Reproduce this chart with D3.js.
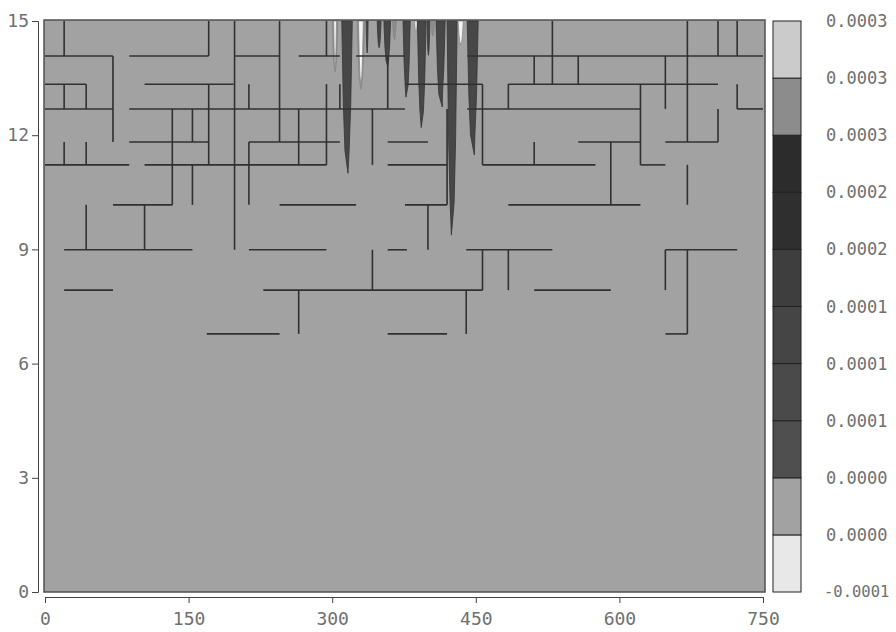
<!DOCTYPE html>
<html>
<head>
<meta charset="utf-8">
<script src="https://cdn.jsdelivr.net/npm/d3@7"></script>
<style>
  body { margin: 0; background: #fff; }
  text { font-family: "DejaVu Sans Mono", monospace; fill: #707070; }
</style>
</head>
<body>
<div id="chart"></div>
<script>
const xTicks = [0, 150, 300, 450, 600, 750];
const yTicks = [0, 3, 6, 9, 12, 15];

// colour bar, bottom to top
const legendLabels = ["-0.0001", "0.0000", "0.0000", "0.0001", "0.0001", "0.0001",
                      "0.0002", "0.0002", "0.0003", "0.0003", "0.0003"];
const legendColors = ["#e8e8e8", "#a2a2a2", "#4f4f4f", "#4a4a4a", "#454545",
                      "#3e3e3e", "#2f2f2f", "#2c2c2c", "#8c8c8c", "#cbcbcb"];

// horizontal contour pieces: [y, x1, x2]
const hSegs = [
  [14.08, 0, 71], [14.08, 88, 171], [14.08, 198, 245], [14.08, 265, 308], [14.08, 325, 376], [14.08, 441, 750],
  [13.34, 0, 43], [13.34, 104, 197], [13.34, 376, 457], [13.34, 484, 703],
  [12.69, 0, 71], [12.69, 88, 376], [12.69, 441, 622], [12.69, 723, 750],
  [11.82, 88, 171], [11.82, 213, 308], [11.82, 358, 400], [11.82, 557, 622], [11.82, 648, 703],
  [11.22, 0, 88], [11.22, 104, 294], [11.22, 358, 420], [11.22, 457, 575], [11.22, 622, 648],
  [10.17, 71, 133], [10.17, 245, 325], [10.17, 376, 420], [10.17, 484, 622],
  [8.99, 20, 154], [8.99, 213, 294], [8.99, 358, 378], [8.99, 440, 530], [8.99, 648, 723],
  [7.93, 20, 71], [7.93, 228, 457], [7.93, 511, 591],
  [6.78, 169, 245], [6.78, 358, 420], [6.78, 648, 671]
];

// vertical contour pieces: [x, yTop, yBottom]
const vSegs = [
  [20, 15, 14.08], [171, 15, 14.08], [198, 15, 8.99], [245, 15, 11.82], [294, 15, 14.08],
  [530, 15, 13.34], [671, 15, 11.82], [703, 15, 14.08], [723, 15, 14.08],
  [71, 14.08, 11.82], [358, 14.08, 12.69], [511, 14.08, 13.34], [557, 14.08, 13.34], [648, 14.08, 12.69],
  [20, 13.34, 12.69], [43, 13.34, 12.69], [171, 13.34, 11.22], [213, 13.34, 12.69], [294, 13.34, 11.22],
  [308, 13.34, 12.69], [457, 13.34, 11.22], [484, 13.34, 12.69], [622, 13.34, 11.22], [723, 13.34, 12.69],
  [133, 12.69, 10.17], [154, 12.69, 11.82], [265, 12.69, 11.22], [342, 12.69, 11.22], [420, 12.69, 10.17], [703, 12.69, 11.82],
  [20, 11.82, 11.22], [43, 11.82, 11.22], [213, 11.82, 10.17], [591, 11.82, 10.17], [511, 11.82, 11.22],
  [154, 11.22, 10.17], [671, 11.22, 10.17],
  [43, 10.17, 8.99], [104, 10.17, 8.99], [400, 10.17, 8.99],
  [342, 8.99, 7.93], [457, 8.99, 7.93], [484, 8.99, 7.93], [648, 8.99, 7.93], [671, 8.99, 6.78],
  [265, 7.93, 6.78], [440, 7.93, 6.78]
];

// narrow filled contours hanging from the top edge: [xLeft, xRight, xTip, yTip, fill]
const spikes = [
  [300, 306, 303, 13.66, "#8c8c8c"],
  [301.5, 304.5, 303, 13.75, "#f2f2f2"],
  [310, 321, 316.5, 11.0, "#474747"],
  [326, 334, 330, 13.2, "#8c8c8c"],
  [327.5, 332.5, 330, 13.3, "#f5f5f5"],
  [335.5, 337.5, 336.5, 14.16, "#474747"],
  [347, 351, 349, 14.3, "#474747"],
  [354, 361, 358, 13.8, "#474747"],
  [363, 367, 365, 14.5, "#8c8c8c"],
  [374, 381.5, 377, 13.0, "#474747"],
  [386, 389, 387.5, 14.7, "#f2f2f2"],
  [389, 398, 393, 12.2, "#474747"],
  [399, 402, 400.5, 14.1, "#474747"],
  [403, 407, 405, 14.6, "#8c8c8c"],
  [408.5, 418, 415, 12.74, "#474747"],
  [420, 430.5, 424.5, 9.38, "#474747"],
  [431.5, 437, 434, 14.37, "#f2f2f2"],
  [441, 452.5, 448.5, 11.48, "#474747"]
];

const width = 896, height = 632;
const svg = d3.select("#chart").append("svg")
    .attr("width", width)
    .attr("height", height);

const x = d3.scaleLinear().domain([0, 750]).range([45, 763]);
const y = d3.scaleLinear().domain([0, 15]).range([592, 21]);

// plot background
const plot = svg.append("g");
plot.append("rect")
    .attr("x", 44).attr("y", 20)
    .attr("width", 721).attr("height", 572)
    .attr("fill", "#a2a2a2");

// spikes: nearly parallel sides, tapering near the tip
const spikePath = s => {
  const xl = x(s[0]), xr = x(s[1]), xt = x(s[2]), top = y(15), yt = y(s[3]);
  const h = yt - top, w = xr - xl;
  return d3.line()([
    [xl, top], [xr, top],
    [xr - w * 0.15, top + 0.55 * h], [xr - w * 0.3, top + 0.85 * h],
    [xt, yt],
    [xl + w * 0.3, top + 0.85 * h], [xl + w * 0.15, top + 0.55 * h]
  ]) + "Z";
};
plot.append("g")
  .selectAll("path")
  .data(spikes)
  .enter().append("path")
    .attr("d", spikePath)
    .attr("fill", d => d[4])
    .attr("stroke", d => d[4] === "#474747" ? "#333" : "#888")
    .attr("stroke-width", 0.8);

// contour lines
const lines = plot.append("g")
    .attr("stroke", "#303030")
    .attr("stroke-width", 1.6);
lines.selectAll("line.h")
  .data(hSegs)
  .enter().append("line")
    .attr("class", "h")
    .attr("x1", d => x(d[1])).attr("x2", d => x(d[2]))
    .attr("y1", d => y(d[0])).attr("y2", d => y(d[0]));
lines.selectAll("line.v")
  .data(vSegs)
  .enter().append("line")
    .attr("class", "v")
    .attr("x1", d => x(d[0])).attr("x2", d => x(d[0]))
    .attr("y1", d => y(d[1])).attr("y2", d => y(d[2]));

// plot frame
plot.append("rect")
    .attr("x", 44).attr("y", 20)
    .attr("width", 721).attr("height", 572)
    .attr("fill", "none")
    .attr("stroke", "#505050")
    .attr("stroke-width", 1.5);

// axes
const xAxis = svg.append("g")
    .attr("transform", "translate(0,597)")
    .call(d3.axisBottom(x).tickValues(xTicks).tickSize(6).tickPadding(9));
const yAxis = svg.append("g")
    .attr("transform", "translate(38,0)")
    .call(d3.axisLeft(y).tickValues(yTicks).tickSize(6).tickPadding(3));
[xAxis, yAxis].forEach(g => {
  g.selectAll("path, line").attr("stroke", "#444");
  g.selectAll("text").attr("fill", "#707070").style("font-size", "18px")
    .style("font-family", "'DejaVu Sans Mono', monospace");
});

// colour bar
const yl = d3.scaleLinear().domain([0, legendColors.length]).range([592, 21]);
const legend = svg.append("g");
legend.selectAll("rect")
  .data(legendColors)
  .enter().append("rect")
    .attr("x", 773)
    .attr("y", (d, i) => yl(i + 1))
    .attr("width", 28)
    .attr("height", (d, i) => yl(i) - yl(i + 1))
    .attr("fill", d => d)
    .attr("stroke", "#222")
    .attr("stroke-width", 1);
legend.selectAll("text")
  .data(legendLabels)
  .enter().append("text")
    .attr("x", d => d.length > 6 ? 824 : 826)
    .attr("y", (d, i) => yl(i))
    .attr("dominant-baseline", "central")
    .style("font-size", d => d.length > 6 ? "15.5px" : "17px")
    .text(d => d);
</script>
</body>
</html>
